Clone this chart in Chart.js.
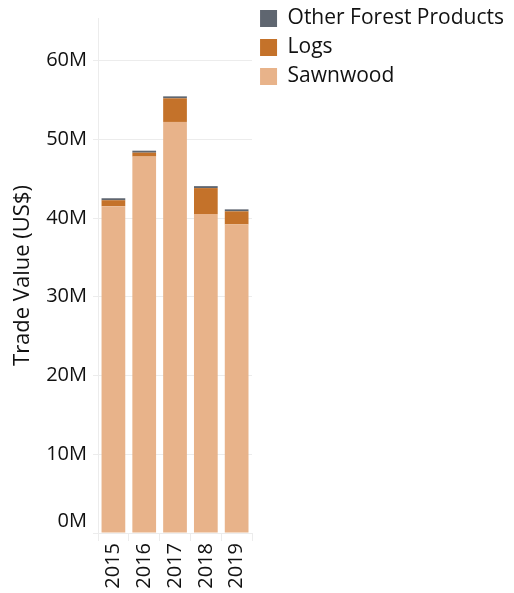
<!DOCTYPE html>
<html>
<head>
<meta charset="utf-8">
<script src="https://cdn.jsdelivr.net/npm/chart.js@4"></script>
<style>
  html, body { margin: 0; padding: 0; background: #fff; }
  #wrap { width: 514px; height: 593px; }
</style>
</head>
<body>
<div id="wrap"><canvas id="myChart"></canvas></div>
<script>
  const years = ['2015', '2016', '2017', '2018', '2019'];
  const sawnwood = [41.5e6, 47.8e6, 52.2e6, 40.5e6, 39.2e6];
  const logs = [0.76e6, 0.5e6, 3.0e6, 3.3e6, 1.65e6];
  const otherForest = [0.25e6, 0.25e6, 0.25e6, 0.25e6, 0.25e6];
  const yTicks = [0, 10e6, 20e6, 30e6, 40e6, 50e6, 60e6];

  const fontFamily = '"Open Sans", Lato, sans-serif';
  const gridColor = '#ececec';

  const data = {
    labels: years,
    datasets: [{
      label: 'Sawnwood',
      backgroundColor: '#e8b38a',
      data: sawnwood,
    }, {
      label: 'Logs',
      backgroundColor: '#c4722a',
      data: logs,
    }, {
      label: 'Other Forest Products',
      backgroundColor: '#5f6670',
      data: otherForest,
    }]
  };

  const config = {
    type: 'bar',
    data: data,
    options: {
      responsive: true,
      maintainAspectRatio: false,
      animation: false,
      barPercentage: 0.77,
      categoryPercentage: 1,
      layout: { padding: { top: 0, right: 0, bottom: 0, left: 10 } },
      plugins: {
        tooltip: { enabled: false },
        legend: {
          position: 'right',
          align: 'start',
          reverse: true,
          maxWidth: 280,
          labels: {
            boxWidth: 17,
            boxHeight: 17,
            padding: 8,
            color: '#111',
            font: { family: fontFamily, size: 21 }
          }
        }
      },
      scales: {
        x: {
          stacked: true,
          grid: {
            drawOnChartArea: false,
            offset: true,
            color: gridColor,
            tickLength: 8
          },
          border: { color: gridColor },
          ticks: {
            minRotation: 90,
            maxRotation: 90,
            padding: 2,
            color: '#111',
            font: { family: fontFamily, size: 20 }
          },
          afterFit(scale) { scale.height = 60; }
        },
        y: {
          stacked: true,
          min: 0,
          max: 65.4e6,
          afterBuildTicks(scale) {
            scale.ticks = yTicks.map(v => ({ value: v }));
          },
          grid: { color: gridColor, tickLength: 5 },
          border: { color: gridColor },
          ticks: {
            padding: 6,
            color: '#111',
            font: { family: fontFamily, size: 20 },
            // the bottom label sits just above the baseline, as in the original
            callback: v => v === 0 ? ['0M', ''] : (v / 1e6) + 'M'
          },
          title: {
            display: true,
            text: 'Trade Value (US$)',
            color: '#111',
            font: { family: fontFamily, size: 22 },
            padding: { top: 0, bottom: 6 }
          },
          afterFit(scale) { scale.width = 88; }
        }
      }
    }
  };

  const myChart = new Chart(
    document.getElementById('myChart'),
    config
  );
</script>
</body>
</html>
